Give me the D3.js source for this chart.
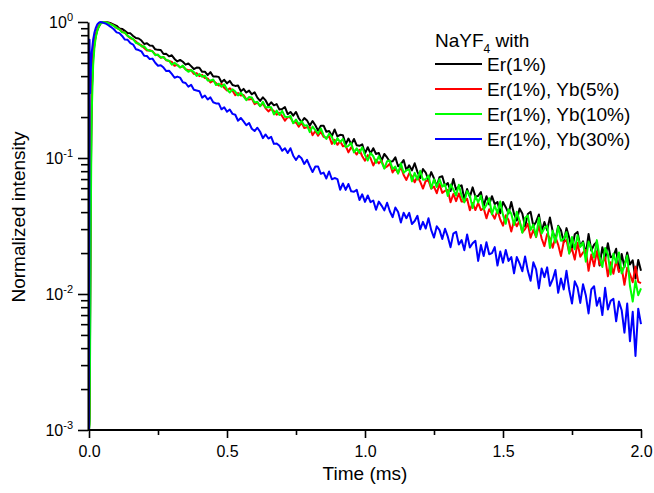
<!DOCTYPE html>
<html>
<head>
<meta charset="utf-8">
<script src="https://cdn.jsdelivr.net/npm/d3@7"></script>
<style>
  body { margin: 0; background: #fff; }
  svg { display: block; font-family: "Liberation Sans", Arial, sans-serif; }
</style>
</head>
<body>
<svg id="chart" width="654" height="493"></svg>
<script>
// ---------------------------------------------------------------------------
// Luminescence decay of NaYF4:Er(1%) with various Yb co-doping.
// Values: a fine rise grid (ms), then one sample
// every 0.01 ms from 0.06 to 2.00 ms.
// ---------------------------------------------------------------------------

const riseTimes = [0, 0.002, 0.004, 0.006, 0.008, 0.010, 0.015, 0.020, 0.025, 0.030, 0.035, 0.040, 0.045, 0.050];
const decayStart = 0.06;
const decayStep = 0.01;

const er1 = [
  0.001, 0.0012, 0.006, 0.04, 0.14, 0.30, 0.55, 0.70, 0.80, 0.87, 0.92, 0.96, 0.985, 0.997,
  1.000, 0.992, 0.978, 0.957,
  0.937, 0.897, 0.890, 0.860, 0.831, 0.825, 0.790, 0.762, 0.756, 0.731,
  0.689, 0.698, 0.671, 0.670, 0.630, 0.624, 0.623, 0.582, 0.583, 0.559,
  0.569, 0.535, 0.513, 0.526, 0.510, 0.486, 0.496, 0.474, 0.451, 0.462,
  0.461, 0.430, 0.431, 0.407, 0.428, 0.398, 0.398, 0.395, 0.361, 0.376,
  0.354, 0.369, 0.344, 0.339, 0.341, 0.310, 0.322, 0.303, 0.313, 0.294,
  0.304, 0.278, 0.263, 0.279, 0.265, 0.242, 0.257, 0.244, 0.249, 0.227,
  0.229, 0.237, 0.210, 0.218, 0.205, 0.218, 0.196, 0.184, 0.197, 0.189,
  0.173, 0.187, 0.174, 0.159, 0.173, 0.173, 0.156, 0.158, 0.145, 0.162,
  0.144, 0.148, 0.147, 0.126, 0.139, 0.126, 0.138, 0.124, 0.123, 0.126,
  0.108, 0.120, 0.108, 0.118, 0.107, 0.109, 0.0957, 0.107, 0.101, 0.0937,
  0.0945, 0.101, 0.0869, 0.0904, 0.0965, 0.0813, 0.0883, 0.0811, 0.0915, 0.0791,
  0.0711, 0.0829, 0.0782, 0.0688, 0.0788, 0.0707, 0.0620, 0.0723, 0.0734, 0.0626,
  0.0655, 0.0572, 0.0701, 0.0585, 0.0617, 0.0630, 0.0497, 0.0592, 0.0518, 0.0608,
  0.0521, 0.0526, 0.0561, 0.0444, 0.0524, 0.0455, 0.0524, 0.0458, 0.0475, 0.0392,
  0.0474, 0.0435, 0.0391, 0.0474, 0.0388, 0.0347, 0.0425, 0.0391, 0.0313, 0.0387,
  0.0402, 0.0315, 0.0340, 0.0384, 0.0289, 0.0338, 0.0295, 0.0365, 0.0289, 0.0249,
  0.0318, 0.0294, 0.0241, 0.0305, 0.0259, 0.0211, 0.0275, 0.0286, 0.0224, 0.0244,
  0.0196, 0.0276, 0.0209, 0.0230, 0.0241, 0.0162, 0.0221, 0.0180, 0.0236, 0.0186,
  0.0191, 0.0215, 0.0146, 0.0197, 0.0158, 0.0202, 0.0165, 0.0177, 0.0130, 0.0178,
  0.0148
];

const er1yb5 = [
  0.001, 0.0015, 0.008, 0.05, 0.16, 0.32, 0.57, 0.72, 0.82, 0.89, 0.94, 0.97, 0.99, 1.0,
  0.998, 0.985, 0.963, 0.940,
  0.904, 0.885, 0.847, 0.834, 0.792, 0.758, 0.747, 0.718, 0.686, 0.674,
  0.644, 0.616, 0.620, 0.609, 0.578, 0.570, 0.545, 0.553, 0.523, 0.517,
  0.509, 0.476, 0.485, 0.464, 0.472, 0.449, 0.442, 0.441, 0.415, 0.421,
  0.400, 0.409, 0.387, 0.385, 0.359, 0.370, 0.356, 0.341, 0.351, 0.328,
  0.314, 0.326, 0.312, 0.290, 0.300, 0.288, 0.291, 0.270, 0.269, 0.272,
  0.249, 0.255, 0.241, 0.252, 0.232, 0.220, 0.230, 0.221, 0.208, 0.215,
  0.203, 0.188, 0.200, 0.198, 0.182, 0.183, 0.170, 0.182, 0.166, 0.168,
  0.168, 0.147, 0.158, 0.146, 0.156, 0.143, 0.141, 0.144, 0.127, 0.136,
  0.125, 0.133, 0.122, 0.123, 0.110, 0.120, 0.113, 0.106, 0.115, 0.103,
  0.0956, 0.105, 0.0997, 0.0881, 0.0974, 0.0913, 0.0959, 0.0844, 0.0866, 0.0910,
  0.0782, 0.0839, 0.0774, 0.0860, 0.0751, 0.0690, 0.0772, 0.0734, 0.0663, 0.0731,
  0.0669, 0.0596, 0.0678, 0.0684, 0.0595, 0.0617, 0.0551, 0.0643, 0.0554, 0.0574,
  0.0583, 0.0473, 0.0544, 0.0482, 0.0549, 0.0478, 0.0478, 0.0501, 0.0413, 0.0467,
  0.0414, 0.0467, 0.0414, 0.0427, 0.0360, 0.0420, 0.0391, 0.0358, 0.0413, 0.0353,
  0.0318, 0.0379, 0.0350, 0.0288, 0.0346, 0.0315, 0.0346, 0.0284, 0.0300, 0.0329,
  0.0259, 0.0296, 0.0262, 0.0317, 0.0256, 0.0225, 0.0276, 0.0257, 0.0219, 0.0263,
  0.0230, 0.0190, 0.0242, 0.0249, 0.0200, 0.0215, 0.0179, 0.0238, 0.0188, 0.0202,
  0.0211, 0.0148, 0.0195, 0.0160, 0.0206, 0.0165, 0.0169, 0.0186, 0.0135, 0.0171,
  0.0141, 0.0176, 0.0146, 0.0156, 0.0117, 0.0156, 0.0140, 0.0122, 0.0159, 0.0123,
  0.0120
];

const er1yb10 = [
  0.001, 0.0011, 0.004, 0.025, 0.09, 0.22, 0.48, 0.66, 0.78, 0.86, 0.92, 0.96, 0.985, 0.998,
  0.995, 0.982, 0.960, 0.937,
  0.905, 0.883, 0.839, 0.837, 0.789, 0.770, 0.748, 0.702, 0.696, 0.661,
  0.662, 0.626, 0.614, 0.610, 0.570, 0.576, 0.548, 0.552, 0.525, 0.519,
  0.485, 0.501, 0.483, 0.463, 0.478, 0.448, 0.430, 0.443, 0.428, 0.401,
  0.415, 0.396, 0.403, 0.371, 0.371, 0.378, 0.344, 0.352, 0.334, 0.348,
  0.320, 0.303, 0.320, 0.308, 0.288, 0.302, 0.284, 0.266, 0.281, 0.279,
  0.256, 0.259, 0.240, 0.259, 0.235, 0.237, 0.236, 0.209, 0.223, 0.207,
  0.222, 0.201, 0.200, 0.204, 0.180, 0.192, 0.177, 0.187, 0.173, 0.174,
  0.155, 0.170, 0.160, 0.151, 0.165, 0.147, 0.138, 0.151, 0.143, 0.127,
  0.140, 0.131, 0.138, 0.120, 0.123, 0.129, 0.110, 0.118, 0.109, 0.120,
  0.105, 0.0958, 0.109, 0.103, 0.0921, 0.103, 0.0936, 0.0835, 0.0948, 0.0957,
  0.0829, 0.0865, 0.0769, 0.0913, 0.0780, 0.0813, 0.0827, 0.0673, 0.0778, 0.0694,
  0.0805, 0.0691, 0.0698, 0.0743, 0.0598, 0.0698, 0.0613, 0.0699, 0.0616, 0.0640,
  0.0526, 0.0638, 0.0587, 0.0530, 0.0635, 0.0526, 0.0472, 0.0571, 0.0527, 0.0428,
  0.0525, 0.0471, 0.0529, 0.0419, 0.0451, 0.0506, 0.0386, 0.0447, 0.0393, 0.0479,
  0.0382, 0.0328, 0.0420, 0.0389, 0.0322, 0.0402, 0.0345, 0.0282, 0.0364, 0.0377,
  0.0295, 0.0324, 0.0263, 0.0364, 0.0278, 0.0305, 0.0317, 0.0218, 0.0292, 0.0239,
  0.0313, 0.0246, 0.0254, 0.0285, 0.0198, 0.0263, 0.0213, 0.0270, 0.0222, 0.0239,
  0.0173, 0.0243, 0.0215, 0.0185, 0.0249, 0.0187, 0.0158, 0.0218, 0.0196, 0.0139,
  0.0198, 0.0169, 0.0202, 0.0142, 0.0161, 0.0192, 0.0115, 0.0088, 0.0125, 0.0098,
  0.0110
];

const er1yb30 = [
  0.001, 0.74, 0.30, 0.42, 0.52, 0.60, 0.74, 0.84, 0.91, 0.96, 0.985, 1.0, 0.995, 0.99,
  0.975, 0.948, 0.918, 0.884,
  0.839, 0.828, 0.790, 0.743, 0.740, 0.699, 0.682, 0.631, 0.622, 0.608,
  0.565, 0.562, 0.534, 0.538, 0.502, 0.477, 0.481, 0.462, 0.436, 0.438,
  0.415, 0.389, 0.397, 0.390, 0.361, 0.356, 0.334, 0.345, 0.318, 0.314,
  0.310, 0.278, 0.288, 0.269, 0.279, 0.257, 0.252, 0.252, 0.228, 0.236,
  0.219, 0.227, 0.211, 0.208, 0.188, 0.197, 0.186, 0.174, 0.181, 0.164,
  0.158, 0.167, 0.156, 0.140, 0.149, 0.139, 0.143, 0.127, 0.128, 0.123,
  0.113, 0.118, 0.109, 0.118, 0.104, 0.0968, 0.104, 0.0996, 0.0904, 0.0968,
  0.0870, 0.0788, 0.0866, 0.0866, 0.0765, 0.0781, 0.0707, 0.0796, 0.0698, 0.0712,
  0.0700, 0.0584, 0.0650, 0.0583, 0.0644, 0.0569, 0.0565, 0.0583, 0.0491, 0.0541,
  0.0476, 0.0530, 0.0474, 0.0487, 0.0416, 0.0478, 0.0447, 0.0412, 0.0469, 0.0406,
  0.0367, 0.0433, 0.0401, 0.0335, 0.0396, 0.0361, 0.0395, 0.0327, 0.0344, 0.0376,
  0.0299, 0.0339, 0.0303, 0.0361, 0.0295, 0.0260, 0.0315, 0.0295, 0.0254, 0.0302,
  0.0264, 0.0221, 0.0278, 0.0287, 0.0231, 0.0249, 0.0210, 0.0274, 0.0220, 0.0236,
  0.0246, 0.0175, 0.0229, 0.0190, 0.0240, 0.0196, 0.0200, 0.0221, 0.0162, 0.0205,
  0.0170, 0.0211, 0.0175, 0.0187, 0.0142, 0.0187, 0.0168, 0.0147, 0.0189, 0.0148,
  0.0125, 0.0171, 0.0152, 0.0110, 0.0154, 0.0133, 0.0157, 0.0115, 0.0128, 0.0150,
  0.0102, 0.0130, 0.0108, 0.0148, 0.0107, 0.0085, 0.0124, 0.0112, 0.0086, 0.0118,
  0.0098, 0.0072, 0.0108, 0.0114, 0.0082, 0.0094, 0.0070, 0.0111, 0.0077, 0.0089,
  0.0092, 0.0063, 0.0088, 0.0076, 0.0052, 0.0085, 0.0045, 0.0074, 0.0035, 0.0078,
  0.0060
];

const seriesNames = ["Er(1%)", "Er(1%), Yb(5%)", "Er(1%), Yb(10%)", "Er(1%), Yb(30%)"];
const seriesColors = ["#000000", "#ff0000", "#00ff00", "#0000ff"];
const seriesValues = [er1, er1yb5, er1yb10, er1yb30];

const xMajorTicks = [0, 0.5, 1.0, 1.5, 2.0];
const xMinorTicks = [0.25, 0.75, 1.25, 1.75];
const yDecades = [1e-3, 1e-2, 1e-1, 1];
const yExponents = ["-3", "-2", "-1", "0"];

// ---------------------------------------------------------------------------

const times = riseTimes.concat(
  d3.range(er1.length - riseTimes.length).map((i) => +(decayStart + i * decayStep).toFixed(3))
);

const svg = d3.select("#chart");
const PLOT = { left: 88, right: 642, top: 22, bottom: 430 };

const x = d3.scaleLinear().domain([0, 2]).range([89, 641]);
const y = d3.scaleLog().domain([1e-3, 1]).range([PLOT.bottom, PLOT.top]);

svg.append("defs").append("clipPath").attr("id", "plot-clip")
  .append("rect")
  .attr("x", PLOT.left).attr("y", PLOT.top - 2)
  .attr("width", PLOT.right - PLOT.left + 2)
  .attr("height", PLOT.bottom - PLOT.top + 2);

// Decay curves (black under, blue on top)
const line = d3.line()
  .x((d, i) => x(times[i]))
  .y((d) => y(d));

svg.append("g").attr("clip-path", "url(#plot-clip)")
  .selectAll("path.decay")
  .data(seriesValues)
  .join("path")
    .attr("class", "decay")
    .attr("d", (d) => line(d))
    .attr("fill", "none")
    .attr("stroke", (d, i) => seriesColors[i])
    .attr("stroke-width", 2)
    .attr("stroke-linejoin", "round");

// X axis
const xAxis = svg.append("g").attr("transform", `translate(0,${PLOT.bottom})`)
  .call(d3.axisBottom(x).tickValues(xMajorTicks).tickFormat(d3.format(".1f"))
    .tickSize(8).tickPadding(8).tickSizeOuter(0));
xAxis.select(".domain").attr("d", `M${PLOT.left},0H${PLOT.right}`);
svg.append("g").attr("transform", `translate(0,${PLOT.bottom})`)
  .call(d3.axisBottom(x).tickValues(xMinorTicks).tickFormat("").tickSize(5).tickSizeOuter(0))
  .call((g) => g.select(".domain").remove());

// Y axis (log)
const yMinor = yDecades.slice(0, -1).flatMap((d) => d3.range(2, 10).map((k) => d * k));
const yAxis = svg.append("g").attr("transform", `translate(${PLOT.left},0)`)
  .call(d3.axisLeft(y).tickValues(yDecades).tickFormat("").tickSize(10).tickSizeOuter(0));
svg.append("g").attr("transform", `translate(${PLOT.left},0)`)
  .call(d3.axisLeft(y).tickValues(yMinor).tickFormat("").tickSize(7).tickSizeOuter(0))
  .call((g) => g.select(".domain").remove());

svg.selectAll(".domain").attr("stroke", "#000").attr("stroke-width", 2);
svg.selectAll(".tick line").attr("stroke", "#000").attr("stroke-width", 1.6);
xAxis.selectAll(".tick text").attr("font-size", 16).attr("fill", "#000")
  .attr("font-family", "Liberation Sans, Arial, sans-serif");

const yLabels = svg.append("g").attr("font-size", 16).attr("fill", "#000");
yDecades.forEach((d, i) => {
  const t = yLabels.append("text")
    .attr("x", 73).attr("y", y(d) + 6)
    .attr("text-anchor", "end");
  t.append("tspan").text("10");
  t.append("tspan").attr("font-size", 11).attr("dy", -7).text(yExponents[i]);
});

// Axis titles
svg.append("text")
  .attr("x", 365).attr("y", 480)
  .attr("text-anchor", "middle").attr("font-size", 19)
  .text("Time (ms)");
svg.append("text")
  .attr("transform", "translate(25,217) rotate(-90)")
  .attr("text-anchor", "middle").attr("font-size", 19)
  .text("Normalized intensity");

// Legend
const legend = svg.append("g").attr("font-size", 19);
const title = legend.append("text").attr("x", 435).attr("y", 47);
title.append("tspan").text("NaYF");
title.append("tspan").attr("font-size", 12).attr("dy", 6).text("4");
title.append("tspan").attr("dy", -6).text(" with");

const rows = legend.selectAll("g.row").data(seriesNames).join("g")
  .attr("class", "row")
  .attr("transform", (d, i) => `translate(0,${64 + i * 25})`);
rows.append("line")
  .attr("x1", 435).attr("x2", 482)
  .attr("stroke", (d, i) => seriesColors[i])
  .attr("stroke-width", 2);
rows.append("text")
  .attr("x", 487).attr("y", 7)
  .text((d) => d);
</script>
</body>
</html>
